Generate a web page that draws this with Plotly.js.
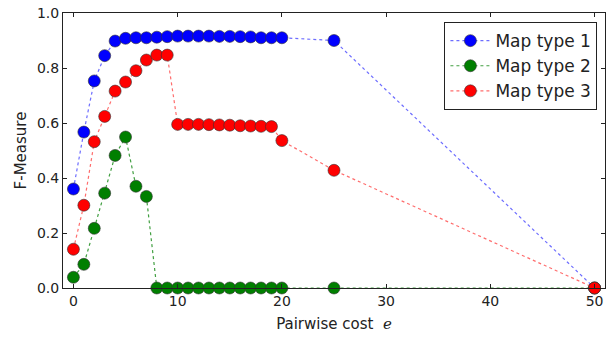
<!DOCTYPE html>
<html><head><meta charset="utf-8">
<script src="https://cdn.plot.ly/plotly-3.0.1.min.js"></script>
<style>body{margin:0;background:#fff}#c{width:613px;height:337px}</style>
</head><body><div id="c"></div>
<script>
const xCost = [0,1,2,3,4,5,6,7,8,9,10,11,12,13,14,15,16,17,18,19,20,25,50];
const mapType1 = [0.36,0.567,0.753,0.845,0.898,0.908,0.91,0.91,0.912,0.914,0.916,0.916,0.916,0.916,0.915,0.915,0.914,0.913,0.91,0.91,0.91,0.90,0.0];
const mapType2 = [0.039,0.086,0.217,0.345,0.482,0.549,0.37,0.333,0,0,0,0,0,0,0,0,0,0,0,0,0,0,0];
const mapType3 = [0.141,0.301,0.532,0.624,0.716,0.749,0.79,0.829,0.847,0.847,0.595,0.595,0.595,0.594,0.593,0.592,0.59,0.589,0.588,0.587,0.536,0.428,0.0];
const seriesNames = ["Map type 1","Map type 2","Map type 3"];
const colors = ["#0000ff","#007f00","#ff0000"];
const lineColors = ["rgba(60,60,255,0.75)","rgba(0,127,0,0.75)","rgba(255,60,60,0.75)"];
const yVals = [mapType1, mapType2, mapType3];

const traces = yVals.map((y,i)=>({
  x: xCost, y: y, name: seriesNames[i], type:'scatter', mode:'lines+markers',
  line:{color:lineColors[i], width:1.2, dash:'dot'},
  marker:{color:colors[i], size:12, line:{color:'#333', width:0.6}},
  cliponaxis:false
}));

const layout = {
  width:613, height:337,
  margin:{l:63, r:8, t:13, b:49},
  paper_bgcolor:'#fff', plot_bgcolor:'#fff',
  font:{family:'DejaVu Sans', size:12, color:'#222'},
  showlegend:true,
  legend:{x:0.986, y:0.967, xanchor:'right', yanchor:'top', bgcolor:'#fff', bordercolor:'#222', borderwidth:1, font:{size:17, family:'DejaVu Sans'}, tracegroupgap:0, itemwidth:40},
  xaxis:{range:[-1,51], tickvals:[0,10,20,30,40,50], ticks:'inside', ticklen:4, tickcolor:'#222', mirror:'allticks', showline:true, linecolor:'#222', linewidth:1, showgrid:false, zeroline:false,
    tickfont:{size:14}, title:{text:'Pairwise cost  <span style="font-family:DejaVu Serif;font-style:italic">e</span>', font:{size:15}, standoff:10}},
  yaxis:{range:[0,1], tickvals:[0,0.2,0.4,0.6,0.8,1.0], tickformat:'.1f', ticks:'inside', ticklen:4, tickcolor:'#222', mirror:'allticks', showline:true, linecolor:'#222', linewidth:1, showgrid:false, zeroline:false,
    tickfont:{size:14}, title:{text:'F-Measure', font:{size:15}, standoff:6}}
};
Plotly.newPlot('c', traces, layout, {displayModeBar:false, staticPlot:true});
</script></body></html>
